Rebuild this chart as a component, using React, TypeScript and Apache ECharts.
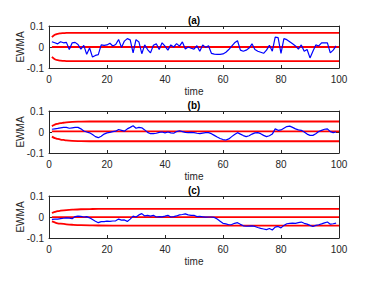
import React, { useEffect, useRef } from "react";
import * as echarts from "echarts";

const xTicks = [0, 20, 40, 60, 80, 100];
const yTicks = [-0.1, 0, 0.1];
const panelTitles = ["(a)", "(b)", "(c)"];

const seriesA = [
  0.025, 0.02, 0.015, 0.025, 0.02, 0.022, -0.012, 0.02, 0.022, 0.012,
  -0.01, 0.008, -0.035, -0.005, -0.048, -0.04, -0.036, 0.01, 0.008, 0.01,
  0.018, 0.005, 0.012, 0.036, -0.002, 0.028, 0.04, 0.034, -0.028, 0.035,
  0.024, -0.032, 0.01, -0.012, -0.028, 0.008, 0.015, -0.012, 0.02, 0.004,
  -0.015, 0.01, 0.0, 0.016, 0.004, 0.024, -0.01, 0.0, -0.006, -0.01,
  0.006, -0.02, 0.01, -0.002, 0.006, -0.03, -0.034, -0.035, -0.035, -0.033,
  -0.025, -0.012, 0.004, 0.02, 0.03, -0.015, -0.02, -0.015, -0.005, 0.015,
  -0.012, -0.02, -0.025, -0.03, -0.015, 0.008, -0.02, 0.047, 0.045, -0.03,
  0.04, 0.035, 0.025, 0.015, 0.005, -0.01, 0.01, -0.02, -0.012, -0.052,
  -0.02, 0.01, 0.005, 0.02, 0.02, 0.02, -0.028, -0.015, 0.005,
];

const seriesB = [
  0.013, 0.015, 0.017, 0.02, 0.022, 0.022, 0.018, 0.02, 0.022, 0.022,
  0.015, 0.005, 0.0, -0.004, -0.012, -0.022, -0.027, -0.02, -0.01, -0.004,
  -0.002, 0.002, 0.004, 0.012, 0.008, 0.004, 0.015, 0.022, 0.03, 0.018,
  0.022, 0.02, 0.01, -0.002, -0.008, -0.008, -0.006, -0.002, 0.0, -0.004,
  0.0, -0.004, -0.006, 0.002, 0.006, 0.002, -0.002, -0.003, -0.002, -0.003,
  -0.006, -0.008, -0.005, -0.003, -0.003, -0.008, -0.016, -0.024, -0.031, -0.036,
  -0.038, -0.033, -0.022, -0.012, -0.003, -0.01, -0.017, -0.022, -0.018, -0.01,
  -0.004, -0.003, -0.008, -0.016, -0.022, -0.018, -0.01, 0.015, 0.008, 0.01,
  0.018, 0.026, 0.028, 0.022, 0.015, 0.01, 0.008, 0.0, -0.01, -0.016,
  -0.016, -0.008, 0.002, 0.008, 0.013, 0.015, 0.002, -0.003, 0.0,
];

const seriesC = [
  -0.011, -0.01, -0.01, -0.008, -0.006, -0.004, -0.005, -0.008, 0.002, 0.004,
  0.003, 0.0, 0.002, -0.004, -0.012, -0.02, -0.027, -0.022, -0.022, -0.02,
  -0.021, -0.019, -0.018, -0.01, -0.015, -0.014, -0.021, -0.01, 0.004, 0.0,
  0.01, 0.016, 0.005, 0.008, 0.004, 0.008, 0.0, 0.002, 0.001, 0.004,
  0.008, 0.0, 0.002, 0.005, 0.01, 0.012, 0.015, 0.01, 0.008, 0.008,
  0.002, 0.003, 0.001, -0.001, 0.0, 0.0, -0.002, -0.01, -0.02, -0.03,
  -0.033, -0.037, -0.036, -0.03, -0.027, -0.035, -0.042, -0.044, -0.043, -0.042,
  -0.045, -0.05, -0.054, -0.057, -0.06, -0.055, -0.062, -0.048, -0.045, -0.052,
  -0.04, -0.032, -0.03, -0.029, -0.03, -0.027, -0.024, -0.03, -0.034, -0.04,
  -0.045, -0.04, -0.037, -0.033, -0.028, -0.024, -0.034, -0.032, -0.029,
];

// control limits as [time, value] pairs
const upperA = [[1, 0.047], [2, 0.058], [3, 0.063], [4, 0.065], [5, 0.066], [6, 0.067], [100, 0.067]];
const centerA = [[1, 0], [100, 0]];
const lowerA = [[1, -0.047], [2, -0.058], [3, -0.063], [4, -0.065], [5, -0.066], [6, -0.067], [100, -0.067]];

const upperB = [[1, 0.028], [2, 0.035], [3, 0.039], [4, 0.042], [5, 0.044], [6, 0.046], [8, 0.048], [10, 0.049], [14, 0.05], [100, 0.05]];
const centerB = [[1, 0.003], [100, 0.003]];
const lowerB = [[1, -0.022], [2, -0.029], [3, -0.033], [4, -0.036], [5, -0.038], [6, -0.04], [8, -0.042], [10, -0.043], [14, -0.044], [100, -0.044]];

const upperC = [[1, 0.019], [2, 0.024], [3, 0.028], [4, 0.03], [6, 0.033], [8, 0.035], [11, 0.037], [15, 0.038], [22, 0.039], [100, 0.039]];
const centerC = [[1, -0.001], [100, -0.001]];
const lowerC = [[1, -0.021], [2, -0.026], [3, -0.03], [4, -0.032], [6, -0.035], [8, -0.037], [11, -0.039], [15, -0.04], [22, -0.041], [100, -0.041]];

const panels = [
  { ewma: seriesA, upper: upperA, center: centerA, lower: lowerA },
  { ewma: seriesB, upper: upperB, center: centerB, lower: lowerB },
  { ewma: seriesC, upper: upperC, center: centerC, lower: lowerC },
];

const gridTops = [26, 111, 196];
const gridH = 42;
const LEFT = 49;
const RIGHT = 35;
const FONT = "Liberation Sans, Arial, sans-serif";
const AX = "#262626";

export default function App() {
  const ref = useRef<HTMLDivElement>(null);
  useEffect(() => {
    document.body.style.margin = "0";
    if (!ref.current) return;
    const chart = echarts.init(ref.current, undefined, { renderer: "svg" });
    const grids: any[] = [];
    const xAxes: any[] = [];
    const yAxes: any[] = [];
    const series: any[] = [];
    const graphics: any[] = [];
    const plotCx = LEFT + (374 - LEFT - RIGHT) / 2;
    panels.forEach((p, i) => {
      grids.push({ left: LEFT, right: RIGHT, top: gridTops[i], height: gridH, show: false });
      const baseX = {
        type: "value", gridIndex: i, min: xTicks[0], max: xTicks[xTicks.length - 1], interval: 20,
        axisLine: { show: true, onZero: false, lineStyle: { color: AX, width: 1 } },
        axisTick: { show: true, inside: true, length: 3, lineStyle: { color: AX } },
        splitLine: { show: false },
      };
      xAxes.push({
        ...baseX, position: "bottom",
        axisLabel: { show: true, color: AX, fontSize: 10, fontFamily: FONT, margin: 6 },
      });
      xAxes.push({ ...baseX, position: "top", axisLabel: { show: false } });
      const baseY = {
        type: "value", gridIndex: i, min: yTicks[0], max: yTicks[yTicks.length - 1], interval: 0.1,
        axisLine: { show: true, onZero: false, lineStyle: { color: AX, width: 1 } },
        axisTick: { show: true, inside: true, length: 3, lineStyle: { color: AX } },
        splitLine: { show: false },
      };
      yAxes.push({
        ...baseY, position: "left",
        axisLabel: { show: true, color: AX, fontSize: 10, fontFamily: FONT, margin: 5,
          formatter: (v: number) => (Math.abs(v) < 1e-9 ? "0" : String(Math.round(v * 10) / 10)) },
      });
      yAxes.push({ ...baseY, position: "right", axisLabel: { show: false } });
      const red = { color: "#ff0000", width: 1.8 };
      [p.upper, p.center, p.lower].forEach((d) => {
        series.push({
          type: "line", xAxisIndex: 2 * i, yAxisIndex: 2 * i, data: d, smooth: d.length > 2 ? 0.4 : false,
          showSymbol: false, lineStyle: red, z: 2,
        });
      });
      series.push({
        type: "line", xAxisIndex: 2 * i, yAxisIndex: 2 * i,
        data: p.ewma.map((v, k) => [k + 1, v]),
        showSymbol: false, lineStyle: { color: "#0000ff", width: 1.2 }, z: 3,
      });
      graphics.push({
        type: "text", x: plotCx, y: gridTops[i] - 6,
        style: { text: panelTitles[i], fontSize: 10, fontWeight: "bold", fontFamily: FONT, fill: "#000", textAlign: "center", textVerticalAlign: "middle" },
      });
      graphics.push({
        type: "text", x: plotCx, y: gridTops[i] + gridH + 23,
        style: { text: "time", fontSize: 10, fontFamily: FONT, fill: AX, textAlign: "center", textVerticalAlign: "middle" },
      });
      graphics.push({
        type: "text", x: 20, y: gridTops[i] + gridH / 2, rotation: Math.PI / 2,
        style: { text: "EWMA", fontSize: 10, fontFamily: FONT, fill: AX, textAlign: "center", textVerticalAlign: "middle" },
      });
    });
    chart.setOption({
      animation: false,
      backgroundColor: "#fff",
      grid: grids,
      xAxis: xAxes,
      yAxis: yAxes,
      series,
      graphic: graphics,
    });
    return () => chart.dispose();
  }, []);
  return <div ref={ref} style={{ width: 374, height: 281 }} />;
}
